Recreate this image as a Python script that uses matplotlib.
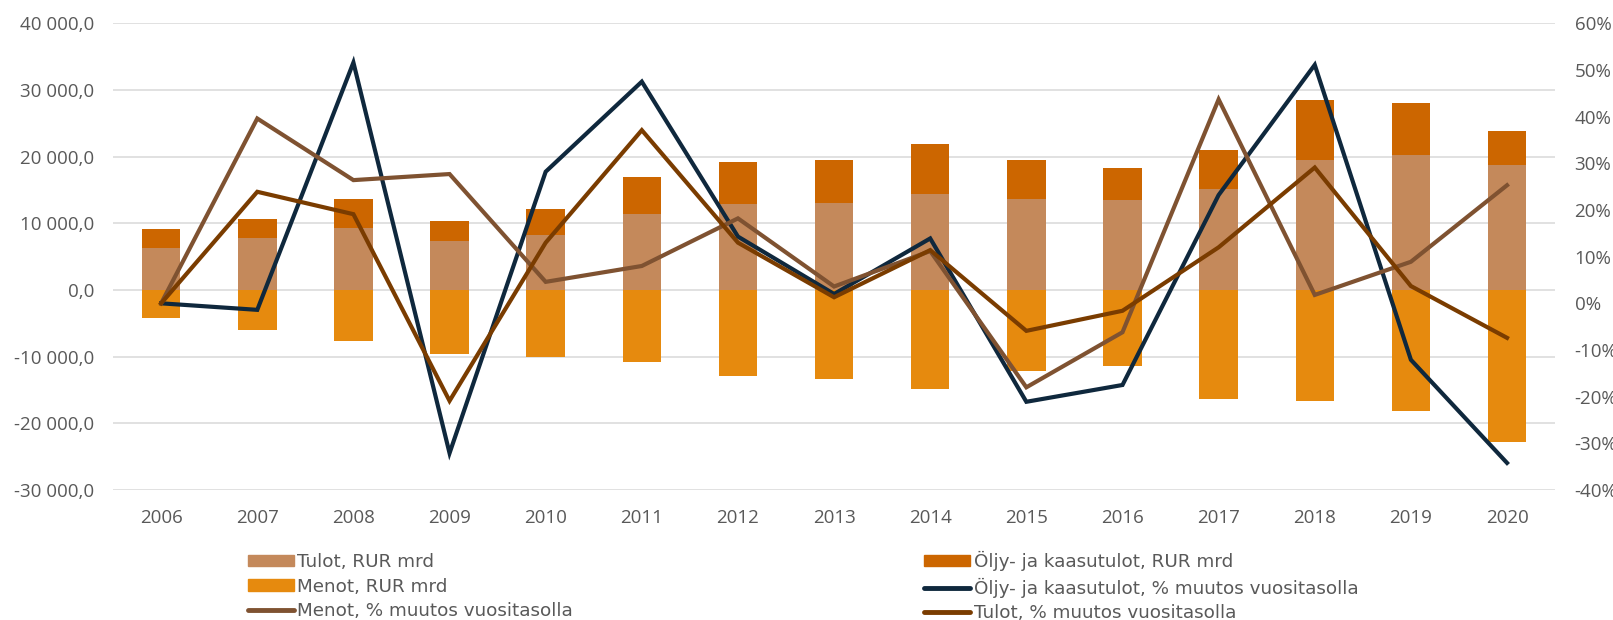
import matplotlib
matplotlib.use('Agg')
import matplotlib.pyplot as plt
from matplotlib.ticker import FuncFormatter
from matplotlib.patches import Patch
from matplotlib.lines import Line2D
import numpy as np

years = ['2006', '2007', '2008', '2009', '2010', '2011', '2012', '2013',
         '2014', '2015', '2016', '2017', '2018', '2019', '2020']

# RUR mrd
tulot = [6250, 7750, 9300, 7350, 8200, 11400, 12900, 13100,
         14450, 13650, 13500, 15150, 19500, 20250, 18750]
oljy = [2950, 2900, 4350, 2950, 3900, 5550, 6300, 6400,
        7400, 5800, 4750, 5850, 8950, 7800, 5100]
menot = [-4250, -6000, -7600, -9600, -10100, -10850, -12900, -13350,
         -14850, -12150, -11350, -16400, -16650, -18150, -22800]

# % muutos vuositasolla
oljy_pct = [0.0, -1.4, 51.6, -32.1, 28.2, 47.5, 14.3, 2.0,
            13.9, -21.1, -17.5, 23.2, 51.1, -12.1, -34.2]
menot_pct = [0.0, 39.6, 26.4, 27.7, 4.6, 8.0, 18.2, 3.6,
             11.2, -18.0, -6.2, 43.7, 1.8, 8.9, 25.3]
tulot_pct = [0.0, 23.9, 19.1, -20.9, 13.0, 37.1, 13.0, 1.3,
             11.4, -5.9, -1.6, 12.0, 29.1, 3.7, -7.4]

c_tulot = '#C4895B'
c_oljy = '#CC6600'
c_menot = '#E68A0E'
c_navy = '#0F283D'
c_menot_l = '#7F5231'
c_tulot_l = '#7A3C00'
txt = '#595959'

fig = plt.figure(figsize=(16.13, 6.2), dpi=100)
ax = fig.add_axes([0.0701, 0.2097, 0.8940, 0.7527])
x = np.arange(len(years))
w = 0.4

ax.bar(x, tulot, w, color=c_tulot, zorder=2)
ax.bar(x, oljy, w, bottom=tulot, color=c_oljy, zorder=2)
ax.bar(x, menot, w, color=c_menot, zorder=2)

ax.set_xlim(-0.5, len(years) - 0.5)
ax.set_ylim(-30000, 40000)
ax.set_yticks(range(-30000, 40001, 10000))
ax.set_xticks(x)
ax.set_xticklabels(years)
ax.yaxis.set_major_formatter(FuncFormatter(
    lambda v, p: f'{v:,.1f}'.replace(',', ' ').replace('.', ',')))
ax.grid(axis='y', color='#D9D9D9', lw=1.1)
ax.set_axisbelow(True)
for s in ax.spines.values():
    s.set_visible(False)
ax.tick_params(axis='y', length=0, pad=13.5, labelsize=13.5, labelcolor=txt)
ax.tick_params(axis='x', length=0, pad=13.5, labelsize=13.5, labelcolor=txt)
for lab in ax.get_xticklabels() + ax.get_yticklabels():
    lab.set_family('Open Sans')

ax2 = ax.twinx()
ax2.plot(x, oljy_pct, color=c_navy, lw=3.0, solid_joinstyle='miter')
ax2.plot(x, menot_pct, color=c_menot_l, lw=3.0, solid_joinstyle='miter')
ax2.plot(x, tulot_pct, color=c_tulot_l, lw=3.0, solid_joinstyle='miter')
ax2.set_ylim(-40, 60)
ax2.set_yticks(range(-40, 61, 10))
ax2.yaxis.set_major_formatter(FuncFormatter(lambda v, p: f'{v:.0f}%'))
for s in ax2.spines.values():
    s.set_visible(False)
ax2.tick_params(axis='y', length=0, pad=14, labelsize=13.5, labelcolor=txt)
for lab in ax2.get_yticklabels():
    lab.set_family('Open Sans')

h1 = [Patch(color=c_tulot), Patch(color=c_menot),
      Line2D([], [], color=c_menot_l, lw=3.5, solid_capstyle='round')]
l1 = ['Tulot, RUR mrd', 'Menot, RUR mrd', 'Menot, % muutos vuositasolla']
h2 = [Patch(color=c_oljy),
      Line2D([], [], color=c_navy, lw=3.5, solid_capstyle='round'),
      Line2D([], [], color=c_tulot_l, lw=3.5, solid_capstyle='round')]
l2 = ['Öljy- ja kaasutulot, RUR mrd', 'Öljy- ja kaasutulot, % muutos vuositasolla',
      'Tulot, % muutos vuositasolla']

leg_kw = dict(loc='upper left', frameon=False, borderpad=0, borderaxespad=0,
              handlelength=2.5, handletextpad=0.2, handleheight=0.6,
              labelspacing=0.36, prop={'family': 'DejaVu Sans', 'size': 13.2},
              labelcolor=txt)
fig.legend(h1, l1, bbox_to_anchor=(247.7 / 1613, 1 - 553 / 620), **leg_kw)
fig.legend(h2, l2, bbox_to_anchor=(924 / 1613, 1 - 551 / 620), **leg_kw)

fig.savefig('out.png', dpi=100)
